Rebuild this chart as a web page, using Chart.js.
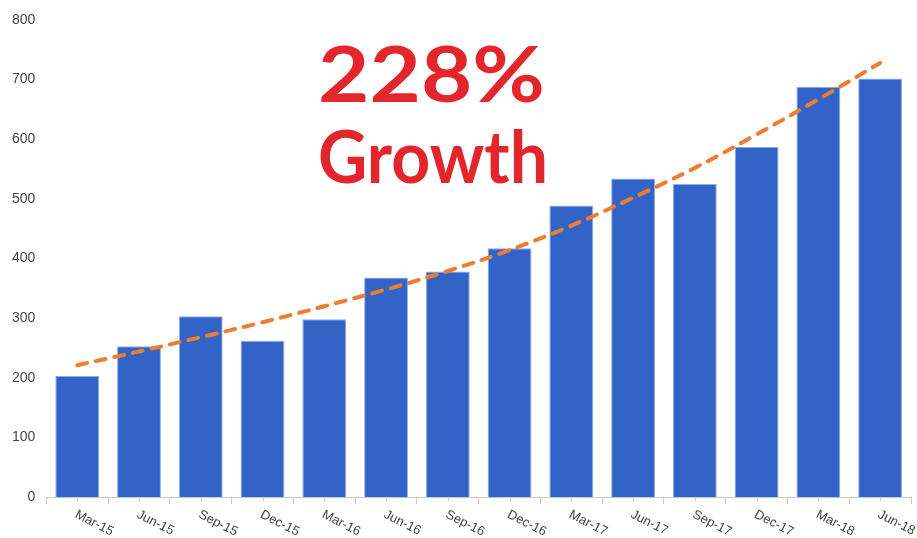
<!DOCTYPE html>
<html>
<head>
<meta charset="utf-8">
<script src="https://cdn.jsdelivr.net/npm/chart.js@4.4.1/dist/chart.umd.min.js"></script>
<style>
  html, body { margin: 0; padding: 0; background: #fff; }
  #wrap { width: 917px; height: 538px; }
</style>
</head>
<body>
<div id="wrap"><canvas id="growthChart" width="917" height="538"></canvas></div>
<script>
const quarters = ["Mar-15", "Jun-15", "Sep-15", "Dec-15", "Mar-16", "Jun-16", "Sep-16",
  "Dec-16", "Mar-17", "Jun-17", "Sep-17", "Dec-17", "Mar-18", "Jun-18"];
const quarterValues = [203, 253, 303, 262, 298, 368, 378, 417, 489, 534, 525, 587, 688, 702];
const trendValues = [221, 244, 268, 293, 320, 348, 379, 414, 455, 502, 552, 608, 667, 728];
const yTicks = [0, 100, 200, 300, 400, 500, 600, 700, 800];
const headline = ["228%", "Growth"];

// rotated quarter labels + small centre ticks under each bar
const quarterLabels = {
  id: "quarterLabels",
  afterDraw(chart) {
    const { ctx } = chart;
    const x = chart.scales.x;
    const y0 = x.top;
    ctx.save();
    ctx.strokeStyle = "#c8c8c8";
    ctx.lineWidth = 1;
    quarters.forEach((q, i) => {
      const px = Math.round(x.getPixelForValue(i)) + 0.5;
      ctx.beginPath();
      ctx.moveTo(px, y0);
      ctx.lineTo(px, y0 + 4);
      ctx.stroke();
    });
    ctx.fillStyle = "#444";
    ctx.font = "13px 'Liberation Sans', Arial, sans-serif";
    ctx.textAlign = "left";
    ctx.textBaseline = "alphabetic";
    quarters.forEach((q, i) => {
      ctx.save();
      ctx.translate(x.getPixelForValue(i) - 3, y0 + 20);
      ctx.rotate(27 * Math.PI / 180);
      ctx.fillText(q, 0, 0);
      ctx.restore();
    });
    ctx.restore();
  }
};

// big red headline
const headlineText = {
  id: "headlineText",
  afterDraw(chart) {
    const { ctx } = chart;
    const lines = [
      { text: headline[0], size: 77, left: 318, base: 102, width: 227 },
      { text: headline[1], size: 72, left: 318, base: 183, width: 230 }
    ];
    ctx.save();
    ctx.fillStyle = "#e3262b";
    ctx.textAlign = "left";
    ctx.textBaseline = "alphabetic";
    lines.forEach(l => {
      ctx.font = "bold " + l.size + "px Lato, 'Open Sans', sans-serif";
      const w = ctx.measureText(l.text).width;
      ctx.save();
      ctx.translate(l.left, l.base);
      ctx.scale(l.width / w, 1);
      ctx.fillText(l.text, 0, 0);
      ctx.restore();
    });
    ctx.restore();
  }
};

new Chart(document.getElementById("growthChart").getContext("2d"), {
  data: {
    labels: quarters,
    datasets: [
      {
        type: "line",
        data: trendValues,
        borderColor: "#ed7d31",
        borderWidth: 4,
        borderDash: [10, 9],
        borderCapStyle: "round",
        pointRadius: 0,
        tension: 0.35,
        fill: false,
        order: 0
      },
      {
        type: "bar",
        data: quarterValues,
        backgroundColor: "#3264c8",
        borderColor: "#8eaae6",
        borderWidth: 1,
        barPercentage: 0.71,
        categoryPercentage: 1,
        order: 1
      }
    ]
  },
  options: {
    responsive: false,
    animation: false,
    layout: { padding: { top: 20, left: 1, right: 6, bottom: 34 } },
    plugins: {
      legend: { display: false },
      tooltip: { enabled: false }
    },
    scales: {
      x: {
        offset: true,
        border: { display: true, color: "#c8c8c8" },
        grid: { offset: true, drawOnChartArea: false, drawTicks: true, tickLength: 7, color: "#c8c8c8" },
        ticks: { display: false }
      },
      y: {
        min: 0,
        max: 800,
        afterBuildTicks(scale) {
          scale.ticks = yTicks.map(v => ({ value: v }));
        },
        border: { display: false },
        grid: { display: false, drawTicks: false },
        ticks: {
          padding: 11,
          color: "#444",
          font: { family: "'Liberation Sans', Arial, sans-serif", size: 14 }
        }
      }
    }
  },
  plugins: [quarterLabels, headlineText]
});
</script>
</body>
</html>
